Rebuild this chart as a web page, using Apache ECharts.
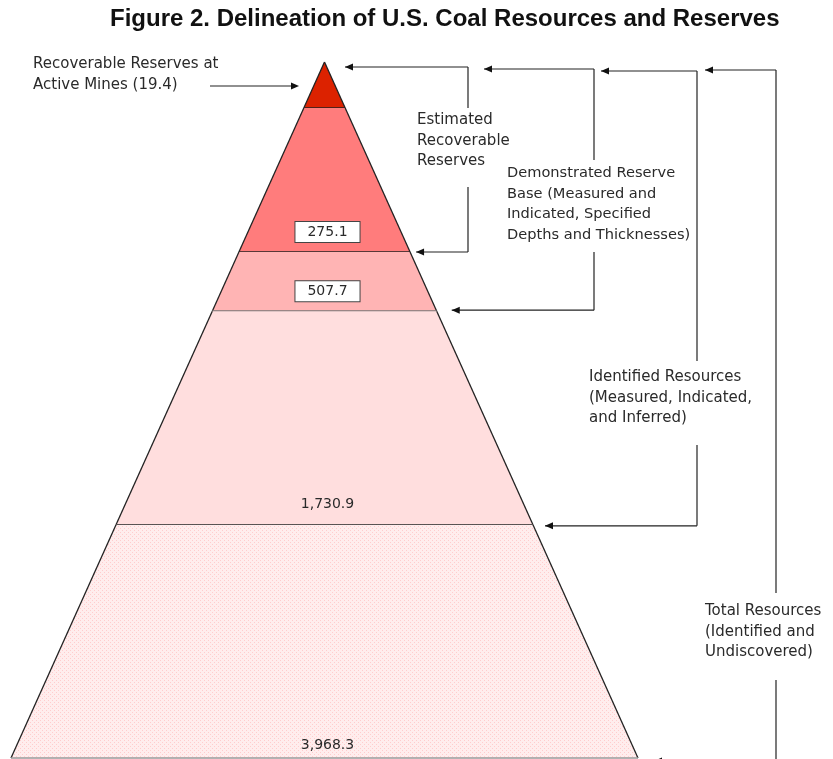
<!DOCTYPE html>
<html>
<head>
<meta charset="utf-8">
<script src="https://cdn.jsdelivr.net/npm/echarts@6/dist/echarts.min.js"></script>
<style>
html,body{margin:0;padding:0;background:#fff;}
#chart{width:833px;height:759px;}
</style>
</head>
<body>
<div id="chart"></div>
<script>
// ---- data ----
const categories = ['Recoverable Reserves at Active Mines', 'Estimated Recoverable Reserves', 'Demonstrated Reserve Base', 'Identified Resources', 'Total Resources'];
const values = [19.4, 275.1, 507.7, 1730.9, 3968.3];            // billion short tons
const bandDepth = [6.6, 27.3, 35.8, 66.5, 100];                  // schematic lower edge of each band (% of pyramid height)
const annotationLines = [
  ['Estimated', 'Recoverable', 'Reserves'],
  ['Demonstrated Reserve', 'Base (Measured and', 'Indicated, Specified', 'Depths and Thicknesses)'],
  ['Identified Resources', '(Measured, Indicated,', 'and Inferred)'],
  ['Total Resources', '(Identified and', 'Undiscovered)']
];
const titleText = 'Figure 2. Delineation of U.S. Coal Resources and Reserves';

// ---- styles ----
const fmt = v => v.toLocaleString('en-US', {minimumFractionDigits: 1, maximumFractionDigits: 1});
const FONT = '15px "DejaVu Sans", sans-serif';
const FONT_NARROW = '14.6px "DejaVu Sans", sans-serif';
const LABEL_FONT = '14px "DejaVu Sans", sans-serif';
const TXT = '#2a2a2a';

const pat = document.createElement('canvas');
pat.width = 4; pat.height = 4;
const pc = pat.getContext('2d');
pc.fillStyle = '#ffeded'; pc.fillRect(0, 0, 4, 4);
pc.fillStyle = '#ffcdcd'; pc.fillRect(0, 0, 1, 1); pc.fillRect(2, 2, 1, 1);

const fills = ['#dc2200', '#ff7c7c', '#ffb4b4', '#ffdede', {image: pat, repeat: 'repeat'}];
const boundaryStyle = [
  {stroke: '#222', lineWidth: 1.5},
  {stroke: '#222', lineWidth: 1.5},
  {stroke: '#777', lineWidth: 2},
  {stroke: '#222', lineWidth: 1.5},
  {stroke: '#999', lineWidth: 1.5}
];

function renderBand(params, api) {
  const i = params.dataIndex;
  const top = i === 0 ? 0 : bandDepth[i - 1];
  const bot = bandDepth[i];
  const tl = api.coord([-top / 100, top]), tr = api.coord([top / 100, top]);
  const br = api.coord([bot / 100, bot]), bl = api.coord([-bot / 100, bot]);
  const children = [
    {type: 'polygon', shape: {points: [tl, tr, br, bl]}, style: {fill: fills[i]}},
    {type: 'line', shape: {x1: tl[0], y1: tl[1], x2: bl[0], y2: bl[1]}, style: {stroke: '#222', lineWidth: 1.3}},
    {type: 'line', shape: {x1: tr[0], y1: tr[1], x2: br[0], y2: br[1]}, style: {stroke: '#222', lineWidth: 1.3}},
    {type: 'line', shape: {x1: bl[0], y1: bl[1], x2: br[0], y2: br[1]}, style: boundaryStyle[i]}
  ];
  if (i > 0) {
    const boxed = i < 3;
    const st = {
      text: fmt(api.value(1)), x: (bl[0] + br[0]) / 2 + 3, y: bl[1] - (i === 4 ? 13 : 20),
      font: LABEL_FONT, fill: TXT, align: 'center', verticalAlign: 'middle'
    };
    if (boxed) {
      Object.assign(st, {backgroundColor: '#fff', borderColor: '#444', borderWidth: 1, padding: [3, 12, 3, 12]});
    }
    children.push({type: 'text', style: st, z2: 10});
  }
  return {type: 'group', children};
}

const chart = echarts.init(document.getElementById('chart'));
chart.setOption({
  animation: false,
  title: {
    text: titleText, left: 110, top: 7, padding: 0,
    textStyle: {fontFamily: 'Liberation Sans, Arial, sans-serif', fontWeight: 'bold', fontSize: 24, color: '#111'}
  },
  grid: {left: 11, right: 195, top: 62, bottom: 1},
  xAxis: {type: 'value', min: -1, max: 1, show: false},
  yAxis: {type: 'value', min: 0, max: 100, inverse: true, show: false},
  series: [{
    type: 'custom', name: 'Coal', clip: false, renderItem: renderBand,
    data: values.map((v, i) => ({name: categories[i], value: [i, v]}))
  }]
});

// ---- annotations (brackets & arrows) ----
function arrowLeft(x, y, len) {
  return [
    {type: 'line', shape: {x1: x, y1: y, x2: x + len, y2: y}, style: {stroke: '#222', lineWidth: 1.2}},
    {type: 'polygon', shape: {points: [[x, y], [x + 8, y - 3.5], [x + 8, y + 3.5]]}, style: {fill: '#111'}}
  ];
}
const brackets = [
  {x: 468, topY: 67, topTip: 345, upEnd: 108, lowStart: 187, gap: 6, dy: 0, textX: 417, textY: 110, font: FONT},
  {x: 594, topY: 69, topTip: 484, upEnd: 160, lowStart: 252, gap: 15, dy: -1, textX: 507, textY: 163, font: FONT_NARROW},
  {x: 697, topY: 71, topTip: 601, upEnd: 361, lowStart: 445, gap: 12, dy: 1, textX: 589, textY: 367, font: FONT},
  {x: 776, topY: 70, topTip: 705, upEnd: 593, lowStart: 680, gap: 16, dy: 3, textX: 705, textY: 601, font: FONT}
];
const g = [];
brackets.forEach((b, k) => {
  const d = bandDepth[k + 1];
  const edge = chart.convertToPixel({gridIndex: 0}, [d / 100, d]);
  const tipX = edge[0] + b.gap, tipY = edge[1] + b.dy;
  g.push(...arrowLeft(b.topTip, b.topY, b.x - b.topTip));
  g.push({type: 'line', shape: {x1: b.x, y1: b.topY, x2: b.x, y2: b.upEnd}, style: {stroke: '#222', lineWidth: 1.2}});
  g.push({type: 'line', shape: {x1: b.x, y1: b.lowStart, x2: b.x, y2: tipY}, style: {stroke: '#222', lineWidth: 1.2}});
  g.push(...arrowLeft(tipX, tipY, b.x - tipX));
  g.push({type: 'text', x: b.textX, y: b.textY, style: {text: annotationLines[k].join('\n'), font: b.font, lineHeight: 20.5, fill: TXT}});
});
// left annotation for the top band
g.push({type: 'text', x: 33, y: 54, style: {text: 'Recoverable Reserves at\nActive Mines (' + fmt(values[0]) + ')', font: FONT, lineHeight: 20.5, fill: TXT}});
g.push({type: 'line', shape: {x1: 210, y1: 86, x2: 292, y2: 86}, style: {stroke: '#222', lineWidth: 1.2}});
g.push({type: 'polygon', shape: {points: [[299, 86], [291, 82.5], [291, 89.5]]}, style: {fill: '#111'}});

chart.setOption({graphic: {elements: g}});
</script>
</body>
</html>
